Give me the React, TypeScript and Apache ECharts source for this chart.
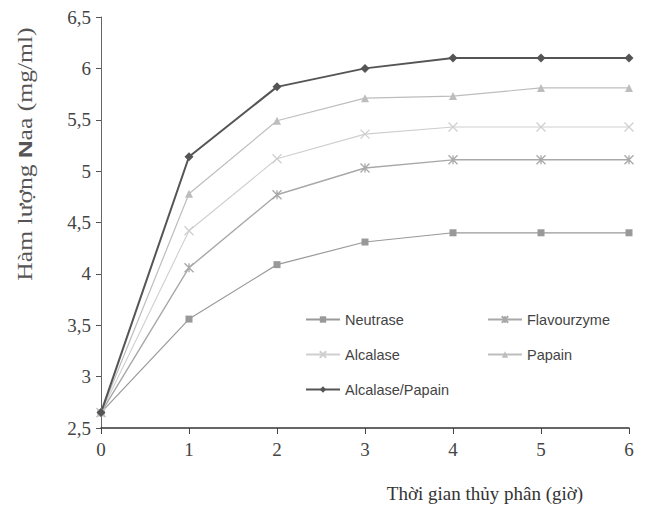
import React, { useEffect, useRef } from "react";
import * as echarts from "echarts";

const hours = [0, 1, 2, 3, 4, 5, 6];
const neutrase = [2.65, 3.56, 4.09, 4.31, 4.4, 4.4, 4.4];
const flavourzyme = [2.65, 4.06, 4.77, 5.03, 5.11, 5.11, 5.11];
const alcalase = [2.65, 4.42, 5.12, 5.36, 5.43, 5.43, 5.43];
const papain = [2.65, 4.78, 5.49, 5.71, 5.73, 5.81, 5.81];
const alcalasePapain = [2.65, 5.14, 5.82, 6.0, 6.1, 6.1, 6.1];
const yTicks = [2.5, 3, 3.5, 4, 4.5, 5, 5.5, 6, 6.5];

const SERIF = "'Liberation Serif', 'Times New Roman', serif";
const SANS = "'Liberation Sans', Arial, sans-serif";

const xMark = "path://M0,0L10,10M10,0L0,10";
const asterisk = "path://M0,0L10,10M10,0L0,10M5,0L5,10";

function pairs(vals: number[]) {
  return hours.map((h, i) => [h, vals[i]]);
}

export default function App() {
  const ref = useRef<HTMLDivElement>(null);
  useEffect(() => {
    document.body.style.margin = "0";
    if (!ref.current) return;
    const chart = echarts.init(ref.current, undefined, { renderer: "svg" });
    const mk = (
      name: string,
      vals: number[],
      color: string,
      symbol: string,
      size: number,
      width: number,
      stroke = false
    ) => ({
      name,
      type: "line",
      data: pairs(vals),
      symbol,
      symbolSize: size,
      lineStyle: { color, width },
      itemStyle: stroke
        ? { color: color, borderColor: color, borderWidth: 1.3 }
        : { color: color, borderWidth: 0 },
      z: 2,
    });
    const legendCommon = {
      orient: "vertical",
      itemWidth: 34,
      itemHeight: 8,
      itemGap: 20,
      textStyle: { fontFamily: SANS, fontSize: 14.5, color: "#444" },
    };
    chart.setOption({
      animation: false,
      backgroundColor: "#fff",
      grid: { left: 101, right: 16, top: 17, bottom: 78 },
      xAxis: {
        type: "value",
        min: 0,
        max: 6,
        interval: 1,
        axisLine: { show: true, lineStyle: { color: "#333", width: 1.5 } },
        axisTick: { show: true, length: 6, lineStyle: { color: "#444" } },
        axisLabel: {
          fontFamily: SERIF,
          fontSize: 19,
          color: "#444",
          margin: 12,
        },
        splitLine: { show: false },
      },
      yAxis: {
        type: "value",
        min: 2.5,
        max: 6.5,
        interval: 0.5,
        axisLine: { show: true, lineStyle: { color: "#666", width: 1 } },
        axisTick: { show: true, length: 5, lineStyle: { color: "#555" } },
        axisLabel: {
          fontFamily: SERIF,
          fontSize: 19,
          color: "#444",
          margin: 10,
          formatter: (v: number) =>
            yTicks.includes(v) ? String(v).replace(".", ",") : "",
        },
        splitLine: { show: false },
      },
      legend: [
        {
          ...legendCommon,
          left: 300,
          top: 307,
          data: ["Neutrase", "Alcalase", "Alcalase/Papain"],
        },
        {
          ...legendCommon,
          left: 482,
          top: 307,
          data: ["Flavourzyme", "Papain"],
        },
      ],
      series: [
        mk("Neutrase", neutrase, "#999999", "rect", 7, 1.2),
        mk("Flavourzyme", flavourzyme, "#a8a8a8", asterisk, 9, 1.4, true),
        mk("Alcalase", alcalase, "#cfcfcf", xMark, 9, 1.1, true),
        mk("Papain", papain, "#bdbdbd", "triangle", 8, 1.2),
        mk("Alcalase/Papain", alcalasePapain, "#555555", "diamond", 9, 2),
      ],
      graphic: [
        {
          type: "text",
          x: 25,
          y: 154,
          rotation: Math.PI / 2,
          scaleX: 1.28,
          style: {
            text: "{a|Hàm lượng }{b|N}{a|aa (mg/ml)}",
            align: "center",
            verticalAlign: "middle",
            fill: "#555",
            rich: {
              a: { fontFamily: SERIF, fontSize: 20, fill: "#555" },
              b: {
                fontFamily: SANS,
                fontSize: 19,
                fontWeight: "bold",
                fill: "#555",
              },
            },
          },
        },
        {
          type: "text",
          x: 485,
          y: 493,
          style: {
            text: "Thời gian thủy phân (giờ)",
            align: "center",
            verticalAlign: "middle",
            fontFamily: SERIF,
            fontSize: 19,
            fill: "#333",
          },
        },
      ],
    });
    return () => chart.dispose();
  }, []);
  return <div ref={ref} style={{ width: 645, height: 506 }} />;
}
